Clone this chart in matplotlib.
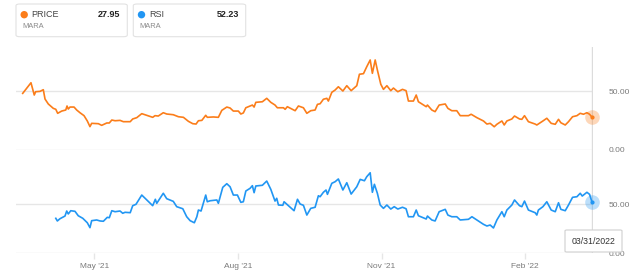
import matplotlib
matplotlib.use("Agg")
import matplotlib.pyplot as plt
from matplotlib.patches import FancyBboxPatch, Ellipse
import pandas as pd

plt.rcParams['font.family'] = ['Liberation Sans', 'DejaVu Sans']

base_date = "2021-03-31"

# days since base_date
price_day = [0.0, 5.3, 7.4, 8.3, 11.1, 13.2, 14.3, 16.4, 19.6, 21.2,
             22.4, 25.0, 27.6, 28.4, 29.2, 30.3, 32.9, 34.6, 36.7, 39.3,
             41.4, 43.1, 44.2, 48.5, 50.6, 53.9, 55.5, 57.1, 59.2, 62.4,
             64.5, 68.9, 70.5, 73.1, 76.3, 79.5, 83.3, 84.8, 86.9, 90.1,
             92.3, 96.5, 99.8, 103.0, 106.2, 109.0, 111.1, 112.6, 114.8, 117.3,
             118.3, 122.2, 125.4, 127.6, 130.8, 132.9, 135.0, 138.2, 139.8, 141.4,
             143.0, 145.7, 147.2, 148.3, 149.4, 153.6, 156.4, 159.0, 161.7, 163.2,
             167.1, 168.2, 169.6, 174.6, 176.7, 179.9, 182.1, 184.6, 187.4, 188.9,
             190.6,
             192.7, 194.9, 195.9, 198.1, 200.2, 202.3, 205.2, 207.7, 210.5, 214.1,
             215.8, 218.4, 220.5, 222.7, 224.1, 225.9, 227.3, 229.5, 231.2, 233.4,
             235.9, 237.6, 240.4, 243.4, 245.7, 247.2, 250.4, 252.2, 253.6, 258.6,
             259.4, 262.2, 264.3, 266.9, 270.8, 272.5, 275.0, 278.2, 280.4, 285.7,
             287.4, 291.1, 295.3, 297.5, 299.6, 302.2, 303.9, 307.1, 308.6, 310.3,
             313.5, 315.2, 318.4, 319.9, 321.6, 324.1, 328.4, 329.5, 333.4, 335.9,
             338.7, 341.3, 343.4, 344.9, 347.7, 349.8, 352.4, 355.2, 357.3, 359.4,
             361.6, 363.3, 364.8]
price_val = [48, 57, 46.6, 49.4, 49.7, 51.1, 43.2, 39, 35.3, 34.5,
             31.1, 33, 33.9, 37.3, 34.7, 36.4, 36.4, 33.9, 31.6, 29.1,
             24.6, 19.8, 22.6, 22.3, 20.9, 22.9, 22.9, 25.4, 24.8, 25.1,
             24, 24, 26.3, 27.4, 30.8, 29.4, 27.7, 29.1, 28.8, 31.6,
             30.5, 29.9, 28.2, 27.7, 24.3, 22.3, 22, 24.8, 25.1, 29.4,
             27.7, 28, 27.7, 33.6, 36.4, 35.6, 33, 33, 30.5, 31.4,
             35.8, 37.3, 38.1, 36.4, 40.4, 40.9, 43.8, 40.4, 38.1, 35.8,
             35.8, 34.5, 36.7, 33.3, 37.3, 35.8, 31.1, 33.3, 33.9, 38.7,
             39.2,
             43, 43.8, 41.5, 48.9, 50.8, 53.6, 50, 54.5, 50.3, 54.5,
             64.2, 64.7, 70.6, 76.3, 65, 76.3, 67.8, 55.7, 51.4, 54.5,
             50.3, 52.5, 49.4, 51.4, 50.3, 41.5, 41.5, 46.6, 40.9, 36.7,
             38.1, 33.9, 32.5, 38.1, 39, 35.3, 33.3, 33.3, 29.1, 29.1,
             30.3, 27.4, 24.6, 22, 22.6, 19.7, 21.8, 24.6, 21.2, 24.6,
             26.3, 28.8, 26.3, 26, 29.1, 24, 22, 21.2, 24.6, 26.9,
             22.6, 21.8, 26, 23.1, 21.2, 24, 28.2, 29.1, 31.1, 30.3,
             31.6, 30.3, 27.95]

rsi_day = [21.2, 22.2, 23.9, 27.1, 28.2, 29.2, 30.8, 33.5, 35.6, 38.5,
           41.4, 43.1, 44.2, 47.4, 49.6, 51.7, 54.2, 55.5, 57.1, 59.2,
           62.4, 64.1, 65.6, 68.9, 70.5, 72.6, 76.3, 79.5, 83.3, 85.0,
           85.9, 90.1, 92.3, 96.5, 98.7, 102.6, 105.1, 107.3, 110.0, 111.6,
           112.6, 114.3, 117.3, 118.3, 120.1, 124.4, 125.4, 128.2, 130.8, 132.9,
           135.0, 137.6, 139.8, 141.4, 143.0, 145.7, 147.2, 148.3, 149.4, 153.6,
           156.4, 159.0, 161.7, 162.8, 163.9, 166.7, 167.5, 169.6, 173.9, 176.1,
           177.8, 179.9, 182.1, 184.6, 187.4, 189.5, 190.6,
           192.7, 194.4, 195.3, 198.1, 200.2, 202.3, 205.2, 207.7, 210.5, 214.1,
           216.3, 219.0, 220.5, 222.7, 224.1, 225.4, 227.3, 229.1, 231.2, 233.4,
           235.9, 238.1, 240.4, 243.4, 245.7, 247.2, 250.4, 252.2, 253.6, 258.6,
           259.4, 262.2, 264.3, 266.9, 270.8, 272.5, 275.0, 278.2, 280.4, 285.7,
           287.9, 291.1, 295.3, 297.5, 299.6, 301.7, 303.9, 307.1, 308.6, 310.3,
           313.5, 315.2, 318.4, 319.9, 321.6, 324.1, 328.4, 329.5, 330.5, 333.4,
           335.9, 338.7, 341.3, 343.4, 344.9, 347.7, 349.8, 352.4, 355.2, 357.3,
           358.6, 361.6, 363.3, 364.8]
rsi_val = [35.5, 32.8, 35.1, 37.8, 42.9, 39.9, 43.2, 42.6, 38.1, 35.5,
           31.0, 26.0, 33.1, 33.8, 32.8, 32.5, 36.5, 36.1, 43.2, 42.2,
           42.9, 40.6, 41.6, 41.2, 48.3, 49.7, 59.1, 54.1, 48.3, 54.8,
           50.7, 60.9, 55.4, 52.7, 47.3, 45.2, 37.1, 33.1, 31.0, 37.1,
           43.9, 42.9, 59.1, 52.3, 53.3, 54.1, 50.7, 66.9, 70.6, 67.5,
           59.1, 59.1, 51.7, 52.3, 63.2, 65.9, 68.6, 61.5, 68.3, 69.0,
           73.3, 64.9, 53.0, 55.8, 49.0, 48.7, 52.3, 49.3, 43.2, 54.8,
           50.0, 48.7, 38.8, 45.6, 46.7, 58.4, 57.4,
           61.9, 64.2, 59.8, 71.0, 72.6, 75.4, 64.2, 71.6, 60.1, 67.5,
           75.0, 73.6, 77.7, 81.7, 61.9, 70.0, 60.9, 49.0, 45.6, 49.0,
           44.9, 47.3, 44.9, 46.7, 45.2, 37.1, 37.1, 43.9, 38.1, 34.8,
           37.8, 33.8, 32.8, 42.2, 44.6, 38.8, 37.1, 37.1, 33.8, 34.5,
           37.1, 33.8, 29.4, 27.7, 28.7, 25.7, 33.8, 42.2, 37.1, 43.9,
           49.0, 54.1, 48.3, 47.3, 53.0, 43.9, 41.2, 38.8, 43.9, 47.3,
           52.3, 43.9, 42.2, 51.3, 44.6, 43.2, 49.0, 56.8, 57.4, 60.9,
           58.1, 61.9, 59.8, 52.23]

tick_dates = ["2021-05-16", "2021-08-16", "2021-11-16", "2022-02-16"]
tick_labels = ["May '21", "Aug '21", "Nov '21", "Feb '22"]
price_ticks = [0, 50]
rsi_ticks = [0, 50]
series_names = ["PRICE", "RSI"]
series_last = ["27.95", "52.23"]
ticker = "MARA"
hover_label = "03/31/2022"

ORANGE = "#fb7d1a"
BLUE = "#2196f3"
GRID = "#e6e6e6"
LABEL = "#7a7a7a"

b = pd.Timestamp(base_date)
px = b + pd.to_timedelta(price_day, unit="D")
rx = b + pd.to_timedelta(rsi_day, unit="D")
xmin = b + pd.Timedelta(days=-4.3)
xmax = b + pd.Timedelta(days=365.5)

W, H = 640, 276
fig = plt.figure(figsize=(W / 100, H / 100), dpi=100)


def fr(x0, y0, x1, y1):
    return [x0 / W, 1 - y1 / H, (x1 - x0) / W, (y1 - y0) / H]


ax1 = fig.add_axes(fr(16, 47, 593, 150))
ax2 = fig.add_axes(fr(16, 150, 593, 253.3))

for ax in (ax1, ax2):
    for s in ax.spines.values():
        s.set_visible(False)
    ax.set_xlim(xmin, xmax)
    ax.yaxis.tick_right()
    ax.tick_params(axis="y", length=0, pad=11, labelsize=6, labelcolor=LABEL)
    ax.grid(axis="y", color=GRID, linewidth=1.0)
    ax.set_axisbelow(True)
    ax.patch.set_alpha(0)
    ax.axvline(px[-1], color="#dcdcdc", linewidth=1.0, zorder=1)

ax1.set_ylim(0, 87.3)
ax1.set_yticks(price_ticks)
ax1.set_yticklabels([f"{v:.2f}" for v in price_ticks])
ax1.set_xticks([])
ax1.plot(px, price_val, color=ORANGE, linewidth=1.2, zorder=3)
ax1.plot(px[-1], price_val[-1], "o", markersize=10.5, color=ORANGE, alpha=0.3,
         markeredgewidth=0, zorder=4, clip_on=False)
ax1.plot(px[-1], price_val[-1], "o", markersize=2, color=ORANGE, zorder=5,
         clip_on=False)

ax2.set_ylim(0, 104.8)
ax2.set_yticks(rsi_ticks)
ax2.set_yticklabels([f"{v:.2f}" for v in rsi_ticks])
ax2.plot(rx, rsi_val, color=BLUE, linewidth=1.2, zorder=3)
ax2.plot(rx[-1], rsi_val[-1], "o", markersize=10.5, color=BLUE, alpha=0.3,
         markeredgewidth=0, zorder=4, clip_on=False)
ax2.plot(rx[-1], rsi_val[-1], "o", markersize=2, color=BLUE, zorder=5,
         clip_on=False)
ax2.set_xticks(pd.to_datetime(tick_dates))
ax2.set_xticklabels(tick_labels)
ax2.tick_params(axis="x", length=4, color=GRID, width=1, pad=3,
                labelsize=6, labelcolor=LABEL)

# legend cards
cards = [(16, 127.3), (133.3, 245.7)]
colors = [ORANGE, BLUE]
for (x0, x1), name, last, c in zip(cards, series_names, series_last, colors):
    box = FancyBboxPatch((x0 / W, 1 - 36.7 / H), (x1 - x0) / W, 32.7 / H,
                         boxstyle="round,pad=0,rounding_size=0.006",
                         transform=fig.transFigure, facecolor="white",
                         edgecolor="#e2e2e2", linewidth=0.8)
    fig.patches.append(box)
    dot = Ellipse(((x0 + 8.2) / W, 1 - 14.7 / H), 7.4 / W, 7.4 / H,
                  transform=fig.transFigure, facecolor=c, edgecolor="none")
    fig.patches.append(dot)
    fig.text((x0 + 15.5) / W, 1 - 14.7 / H, name, color="#444444",
             fontsize=6.5, ha="left", va="center")
    fig.text((x1 - 6.8) / W, 1 - 14.7 / H, last, color="#222222",
             fontsize=6.5, fontweight="bold", ha="right", va="center")
    fig.text((x0 + 6.5) / W, 1 - 26.2 / H, ticker, color="#8a8a8a",
             fontsize=5.4, ha="left", va="center")

# hover tooltip
tip = FancyBboxPatch((565 / W, 1 - 252 / H), 57 / W, 22 / H,
                     boxstyle="round,pad=0,rounding_size=0.003",
                     transform=fig.transFigure, facecolor="white",
                     edgecolor="#d0d0d0", linewidth=0.8, zorder=10)
fig.patches.append(tip)
fig.text(593.5 / W, 1 - 241 / H, hover_label, color="#333333", fontsize=6.3,
         ha="center", va="center", zorder=11)

fig.savefig("out.png", dpi=100)
